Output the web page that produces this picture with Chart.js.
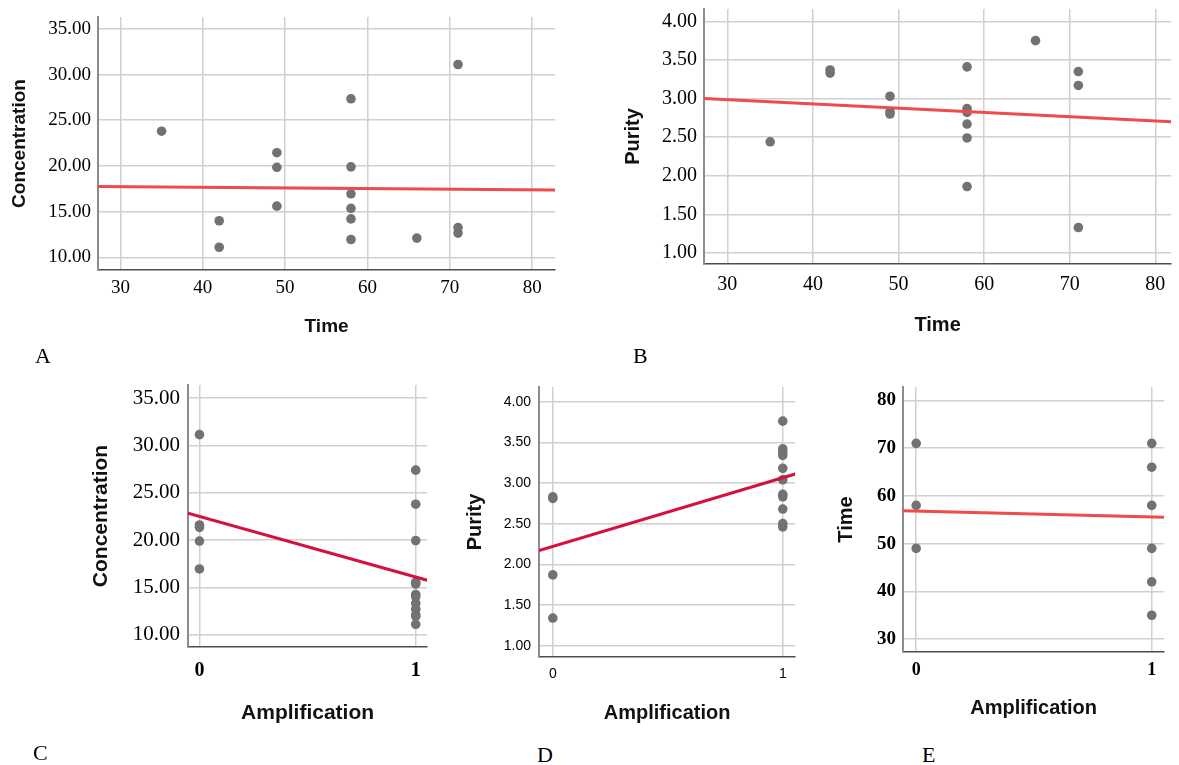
<!DOCTYPE html>
<html>
<head>
<meta charset="utf-8">
<title>Scatter panels</title>
<script src="https://cdn.jsdelivr.net/npm/chart.js@4.4.1/dist/chart.umd.min.js"></script>
<style>
  body { margin: 0; background: #fff; }
  #lienzo { position: relative; width: 1179px; height: 765px; overflow: hidden; background: #fff; }
  canvas { position: absolute; }
  .letra { position: absolute; font-family: 'Liberation Serif', serif; font-size: 22px; line-height: 22px; color: #000; }
</style>
</head>
<body>
<div id="lienzo">
  <canvas id="panelA"></canvas>
  <canvas id="panelB"></canvas>
  <canvas id="panelC"></canvas>
  <canvas id="panelD"></canvas>
  <canvas id="panelE"></canvas>
  <div class="letra" style="left:35px;top:345px">A</div>
  <div class="letra" style="left:633px;top:345px">B</div>
  <div class="letra" style="left:33px;top:742px">C</div>
  <div class="letra" style="left:537px;top:744px">D</div>
  <div class="letra" style="left:922px;top:744px">E</div>
</div>
<script>
// datos
// A: Time vs Concentration
const timeA = [35, 42, 42, 49, 49, 49, 58, 58, 58, 58, 58, 58, 66, 71, 71, 71];
const concA = [23.8, 14.0, 11.1, 21.45, 19.85, 15.6, 27.35, 19.9, 16.95, 15.35, 14.2, 11.95, 12.1, 31.1, 13.25, 12.65];
const fitXA = [27.28, 82.8];
const fitYA = [17.74, 17.37];

// B: Time vs Purity
const timeB = [35, 42, 42, 49, 49, 49, 58, 58, 58, 58, 58, 58, 66, 71, 71, 71];
const purityB = [2.44, 3.37, 3.33, 3.03, 2.83, 2.8, 3.41, 2.87, 2.82, 2.67, 2.49, 1.86, 3.75, 3.35, 3.17, 1.33];
const fitXB = [27.27, 81.85];
const fitYB = [3.0, 2.7];

// C: Amplification vs Concentration
const ampC = [0, 0, 0, 0, 0, 1, 1, 1, 1, 1, 1, 1, 1, 1, 1, 1, 1];
const concC = [31.15, 21.6, 21.35, 19.9, 16.95, 27.4, 23.8, 19.95, 15.55, 15.35, 14.25, 14.0, 13.3, 12.7, 12.1, 11.95, 11.1];
const fitXC = [-0.053, 1.053];
const fitYC = [22.85, 15.75];

// D: Amplification vs Purity
const ampD = [0, 0, 0, 0, 1, 1, 1, 1, 1, 1, 1, 1, 1, 1, 1];
const purityD = [2.83, 2.81, 1.87, 1.34, 3.76, 3.42, 3.38, 3.34, 3.18, 3.04, 2.86, 2.83, 2.68, 2.5, 2.46];
const fitXD = [-0.06, 1.054];
const fitYD = [2.17, 3.11];

// E: Amplification vs Time
const ampE = [0, 0, 0, 1, 1, 1, 1, 1, 1];
const timeE = [71, 58, 49, 71, 66, 58, 49, 42, 35];
const fitXE = [-0.056, 1.053];
const fitYE = [56.9, 55.5];

const SERIF = "'Liberation Serif', 'Times New Roman', serif";
const SANS = "'Liberation Sans', Arial, sans-serif";
const ROJO = '#ef4b4b';
const CARMIN = '#d5103f';

function pares(xs, ys) {
  return xs.map((x, i) => ({ x: x, y: ys[i] }));
}

function crearPanel(id, p) {
  const canvas = document.getElementById(id);
  canvas.width = p.width;
  canvas.height = p.height;
  canvas.style.left = p.left + 'px';
  canvas.style.top = p.top + 'px';

  return new Chart(canvas.getContext('2d'), {
    type: 'scatter',
    data: {
      datasets: [
        {
          data: pares(p.xs, p.ys),
          backgroundColor: '#727272',
          borderWidth: 0,
          pointRadius: 4.8,
          pointHoverRadius: 4.8,
          order: 2
        },
        {
          type: 'line',
          data: pares(p.fitX, p.fitY),
          borderColor: p.lineColor,
          borderWidth: 3,
          pointRadius: 0,
          fill: false,
          order: 1
        }
      ]
    },
    options: {
      responsive: false,
      animation: false,
      layout: { padding: { top: p.padTop, left: 0, right: 0, bottom: 0 } },
      plugins: { legend: { display: false }, tooltip: { enabled: false } },
      scales: {
        x: {
          type: 'linear',
          min: p.fitX[0],
          max: p.fitX[1],
          ticks: {
            stepSize: p.xStep,
            includeBounds: false,
            padding: p.xTickPad,
            color: '#000',
            font: p.xTickFont,
            callback: v => String(v)
          },
          grid: { color: '#d0d0d0', lineWidth: 1.5, drawTicks: false },
          border: { color: '#4d4d4d', width: 1.5 },
          title: {
            display: true,
            text: p.xTitle,
            color: '#111',
            font: { family: SANS, size: p.titleSize, weight: 'bold' },
            padding: { top: 0, bottom: p.xTitlePad }
          },
          afterFit: s => { s.height = p.xHeight; s.paddingLeft = 0; s.paddingRight = 0; }
        },
        y: {
          type: 'linear',
          min: p.yMin,
          max: p.yMax,
          ticks: {
            stepSize: p.yStep,
            includeBounds: false,
            padding: p.yTickPad,
            color: '#000',
            font: p.yTickFont,
            callback: v => p.yDec ? v.toFixed(2) : String(v)
          },
          grid: { color: '#d0d0d0', lineWidth: 1.5, drawTicks: false },
          border: { color: '#8c8c8c', width: 2 },
          title: {
            display: true,
            text: p.yTitle,
            color: '#111',
            font: { family: SANS, size: p.titleSize, weight: 'bold' },
            padding: { top: p.yTitlePad, bottom: 0 }
          },
          afterFit: s => { s.width = p.yWidth; s.paddingTop = 0; s.paddingBottom = 0; }
        }
      }
    }
  });
}

crearPanel('panelA', {
  left: 0, top: 0, width: 560, height: 345, padTop: 17, yWidth: 98, xHeight: 75,
  xs: timeA, ys: concA, fitX: fitXA, fitY: fitYA, lineColor: ROJO,
  xStep: 10, yMin: 8.61, yMax: 36.3, yStep: 5, yDec: true,
  xTitle: 'Time', yTitle: 'Concentration', titleSize: 19,
  xTickFont: { family: SERIF, size: 19 }, yTickFont: { family: SERIF, size: 19 },
  xTickPad: 6.6, yTickPad: 7, xTitlePad: 6.6, yTitlePad: 8.6
});

crearPanel('panelB', {
  left: 610, top: 0, width: 566, height: 345, padTop: 9, yWidth: 94, xHeight: 81,
  xs: timeB, ys: purityB, fitX: fitXB, fitY: fitYB, lineColor: ROJO,
  xStep: 10, yMin: 0.857, yMax: 4.16, yStep: 0.5, yDec: true,
  xTitle: 'Time', yTitle: 'Purity', titleSize: 20,
  xTickFont: { family: SERIF, size: 20 }, yTickFont: { family: SERIF, size: 20 },
  xTickPad: 9, yTickPad: 7, xTitlePad: 8, yTitlePad: 11
});

crearPanel('panelC', {
  left: 80, top: 370, width: 352, height: 365, padTop: 15, yWidth: 108, xHeight: 88,
  xs: ampC, ys: concC, fitX: fitXC, fitY: fitYC, lineColor: CARMIN,
  xStep: 1, yMin: 8.7, yMax: 36.4, yStep: 5, yDec: true,
  xTitle: 'Amplification', yTitle: 'Concentration', titleSize: 21,
  xTickFont: { family: SERIF, size: 20, weight: 'bold' }, yTickFont: { family: SERIF, size: 21 },
  xTickPad: 12, yTickPad: 8, xTitlePad: 9.4, yTitlePad: 9
});

crearPanel('panelD', {
  left: 455, top: 370, width: 345, height: 365, padTop: 17, yWidth: 84, xHeight: 78,
  xs: ampD, ys: purityD, fitX: fitXD, fitY: fitYD, lineColor: CARMIN,
  xStep: 1, yMin: 0.861, yMax: 4.18, yStep: 0.5, yDec: true,
  xTitle: 'Amplification', yTitle: 'Purity', titleSize: 20,
  xTickFont: { family: SANS, size: 14 }, yTickFont: { family: SANS, size: 14 },
  xTickPad: 9, yTickPad: 8, xTitlePad: 10, yTitlePad: 8
});

crearPanel('panelE', {
  left: 825, top: 370, width: 344, height: 360, padTop: 17, yWidth: 78, xHeight: 78,
  xs: ampE, ys: timeE, fitX: fitXE, fitY: fitYE, lineColor: ROJO,
  xStep: 1, yMin: 27.3, yMax: 82.8, yStep: 10, yDec: false,
  xTitle: 'Amplification', yTitle: 'Time', titleSize: 20,
  xTickFont: { family: SERIF, size: 18, weight: 'bold' }, yTickFont: { family: SERIF, size: 19, weight: 'bold' },
  xTickPad: 8, yTickPad: 7, xTitlePad: 10, yTitlePad: 9.7
});
</script>
</body>
</html>
